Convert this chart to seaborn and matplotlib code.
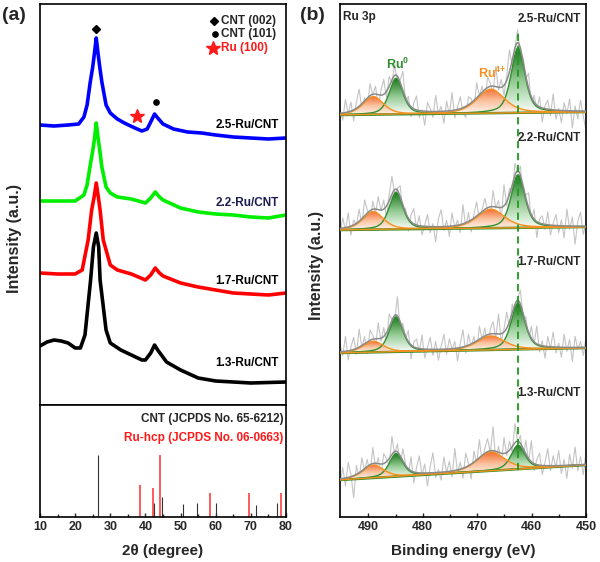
import numpy as np
import pandas as pd
import matplotlib
matplotlib.use("Agg")
import matplotlib.pyplot as plt
import seaborn as sns
from matplotlib.colors import LinearSegmentedColormap

sns.set_theme(style="white")
plt.rcParams['font.family'] = ['Liberation Sans', 'DejaVu Sans']
plt.rcParams['font.weight'] = 'bold'
plt.rcParams['mathtext.fontset'] = 'custom'
plt.rcParams['mathtext.rm'] = 'Liberation Sans:bold'
plt.rcParams['mathtext.bf'] = 'Liberation Sans:bold'
plt.rcParams['mathtext.it'] = 'Liberation Sans:bold'
plt.rcParams['axes.linewidth'] = 1.2

# ---------------- XRD data (2theta, intensity a.u.) ----------------
xrd_25_x = [10, 14, 18, 21, 22.5, 23.4, 24.3, 25.0, 25.5, 26.0, 26.5, 27.0, 27.6, 28.8, 30, 32, 34, 37, 39, 40.5, 41.5, 42.6, 43.5, 45, 48, 52, 56, 60, 65, 70, 75, 80]
xrd_25_y = [280, 279, 280, 281, 288, 300, 323, 338, 352, 367, 352, 338, 323, 300, 292, 286, 282, 277, 274, 276, 283, 291, 287, 281, 276, 273, 272, 270, 268, 267, 266, 267]
xrd_22_x = [10, 15, 20, 22.5, 23.4, 24.3, 25.0, 25.5, 26.0, 26.5, 27.0, 27.6, 28.8, 30, 32, 36, 40, 41.5, 42.8, 44, 45, 50, 55, 60, 65, 70, 75, 80]
xrd_22_y = [204, 204, 204, 210, 220, 240, 254, 266, 282, 268, 255, 238, 218, 212, 208, 206, 202, 207, 213, 208, 205, 197, 193, 191, 190, 188, 187, 190]
xrd_17_x = [10, 15, 20, 22, 23.7, 24.7, 25.4, 26.0, 26.6, 27.1, 28.0, 30, 32, 36, 40, 41.5, 42.8, 44, 45, 50, 55, 60, 65, 70, 75, 80]
xrd_17_y = [132, 131, 131, 135, 165, 195, 208, 222, 208, 195, 165, 140, 135, 131, 125, 130, 137, 132, 129, 122, 118, 115, 112, 111, 110, 112]
xrd_13_x = [10, 12, 14, 16, 18, 20, 21.5, 22.8, 24.4, 25.2, 26.0, 26.7, 27.1, 28.8, 30, 33, 36, 39, 40, 41.5, 42.6, 43.5, 46, 50, 55, 60, 70, 80]
xrd_13_y = [59, 63, 65, 64, 62, 57, 57, 70, 125, 158, 172, 158, 125, 75, 62, 55, 50, 45, 45, 52, 60, 55, 43, 35, 27, 24, 22, 23]

xrd_labels = ["2.5-Ru/CNT", "2.2-Ru/CNT", "1.7-Ru/CNT", "1.3-Ru/CNT"]
xrd_colors = ["#0000ff", "#00ee00", "#ff0000", "#000000"]

# reference patterns
cnt_pos = [26.6, 42.4, 44.6, 50.6, 54.8, 60.0, 71.5, 77.4]
cnt_int = [62, 14, 20, 13, 14, 14, 12, 14]
ru_pos = [38.5, 42.2, 44.1, 58.4, 69.5, 78.5]
ru_int = [32, 29, 62, 24, 24, 24]

# ---------------- XPS Ru 3p data ----------------
xps_labels = ["2.5-Ru/CNT", "2.2-Ru/CNT", "1.7-Ru/CNT", "1.3-Ru/CNT"]
peak_centers = [484.9, 462.5, 489.1, 467.5]       # Ru0 3p1/2, Ru0 3p3/2, Ru4+ 3p1/2, Ru4+ 3p3/2
peak_fwhm = [3.0, 3.0, 4.5, 6.0]
peak_kind = ["Ru0", "Ru0", "Ru4+", "Ru4+"]
heights_25 = [36, 65, 18, 24]
heights_22 = [37, 53, 18, 19]
heights_17 = [35, 46, 11, 14]
heights_13 = [23, 24, 13, 19]
baseline_25 = [402, 405]
baseline_22 = [287, 290]
baseline_17 = [164, 169]
baseline_13 = [37, 52]
resid_25 = [4, -7, 13, -2, 9, -11, 6, 17, -5, 3,
            -9, 12, -1, 8, -13, 5, 15, -6, 10, -3,
            11, -8, 2, 19, -4, 7, -10, 6, 14, -7,
            1, -14, 9, 3, -6, 16, -2, 5, -12, 10,
            -4, 18, -8, 2, 12, -5, -11, 8, 4, -9,
            15, -1, 6, -13, 11, 3, -7, 20, -3, 8,
            -10, 5, 22, -6, 1, 13, -8, 4, -2, 15,
            -11, 7, -4, 10, -14, 3, 9, -6, 16, -9,
            2, -12, 8, -3, 12, -17, 5, -8, 11, -5,
            -19]
resid_22 = [-6, 10, -3, 14, -9, 5, -2, 12, -7, 16,
            3, -11, 8, -4, 13, -1, 9, -12, 6, 18,
            -5, 2, 11, -8, 4, -13, 7, 15, -3, 10,
            -9, 1, 12, -6, 3, -15, 8, 17, -4, 6,
            -10, 13, -2, 5, -8, 19, -5, 9, -12, 4,
            14, -7, 2, 11, -3, -9, 16, -1, 7, -11,
            21, -4, 6, -8, 12, -2, 9, -13, 3, 15,
            -6, 10, -16, 4, 8, -5, 13, -10, 2, 11,
            -7, 6, -12, 17, -3, 9, -18, 5, 14, -8,
            3]
resid_17 = [8, -4, 15, -9, 3, 12, -6, 18, -2, 7,
            -12, 10, 4, -7, 16, -3, 9, -10, 13, 1,
            -5, 19, -8, 6, -2, 11, -14, 5, 9, -4,
            14, -9, 2, 12, -6, 8, -11, 3, 15, -5,
            10, -1, 7, -13, 4, 17, -7, 11, -3, 6,
            -10, 13, -2, 8, -15, 5, 12, -4, 20, -8,
            3, 16, -6, 9, -11, 2, 14, -5, 7, -9,
            12, -3, 18, -7, 5, -12, 10, -1, 15, -6,
            4, -10, 13, -4, 8, -14, 11, -2, 6, -8,
            9]
resid_13 = [-4, 11, -8, 15, 2, -22, 9, -5, 13, -2,
            7, -10, 16, -4, 6, -12, 10, 3, -7, 18,
            -3, 8, -9, 12, 1, -6, 14, -11, 5, 17,
            -2, 9, -13, 6, 20, -5, 3, -8, 15, -1,
            10, -6, 22, -3, 7, -10, 14, 2, -15, 11,
            -4, 18, -7, 5, 13, -2, 24, -9, 6, -12,
            16, -3, 9, -6, 19, -1, 8, -11, 14, -4,
            21, -7, 5, 12, -9, 3, 17, -5, 10, -2,
            15, -8, 6, -13, 11, -3, 18, -6, 8, -10,
            12]

# ---------------- figure layout ----------------
W, H = 600, 562
fig = plt.figure(figsize=(6.0, 5.62), dpi=100)
def rect(l, t, r, b):
    return [l / W, 1 - b / H, (r - l) / W, (b - t) / H]

ax_top = fig.add_axes(rect(40, 4, 286, 405))
ax_ref = fig.add_axes(rect(40, 405, 286, 517))
ax_xps = fig.add_axes(rect(340, 4, 586, 517))

for ax in (ax_top, ax_ref, ax_xps):
    ax.set_facecolor("white")
    for s in ax.spines.values():
        s.set_color("black")
        s.set_linewidth(1.2)

FS = 8.5

# ---------------- panel (a) upper ----------------
series = [(xrd_25_x, xrd_25_y), (xrd_22_x, xrd_22_y), (xrd_17_x, xrd_17_y), (xrd_13_x, xrd_13_y)]
for (xs, ys), lab, col in zip(series, xrd_labels, xrd_colors):
    df = pd.DataFrame({"x": xs, "y": ys})
    sns.lineplot(data=df, x="x", y="y", ax=ax_top, color=col, lw=2.6, legend=False)
label_y = [280, 202, 124, 42]
label_c = ["black", "#1c1c50", "black", "black"]
for lab, yy, c in zip(xrd_labels, label_y, label_c):
    ax_top.text(78.0, yy, lab, ha="right", va="center", fontsize=FS, fontweight="bold", color=c)

ax_top.plot([25.9], [376], marker="D", ms=4.2, color="black", ls="none")
ax_top.plot([43.0], [303], marker="o", ms=3.8, color="black", ls="none")
ax_top.plot([37.6], [289], marker="*", ms=10, color="#ff1a1a", ls="none")
ax_top.plot([59.5], [384], marker="D", ms=4.2, color="black", ls="none")
ax_top.plot([59.7], [371], marker="o", ms=3.8, color="black", ls="none")
ax_top.plot([59.3], [357], marker="*", ms=10, color="#ff1a1a", ls="none")
ax_top.text(61.4, 384, "CNT (002)", ha="left", va="center", fontsize=FS, fontweight="bold")
ax_top.text(61.4, 371, "CNT (101)", ha="left", va="center", fontsize=FS, fontweight="bold")
ax_top.text(61.4, 357, "Ru (100)", ha="left", va="center", fontsize=FS, fontweight="bold", color="#ff1a1a")
ax_top.set_xlim(10, 80)
ax_top.set_ylim(0, 401)
ax_top.set_xticks([])
ax_top.set_yticks([])
ax_top.set_xlabel("")
ax_top.set_ylabel("")

# ---------------- panel (a) lower ----------------
ax_ref.vlines(ru_pos, 0, ru_int, color="#ff5a5a", lw=1.4)
ax_ref.vlines(cnt_pos, 0, cnt_int, color="#333333", lw=0.8)
ax_ref.text(79.2, 98, "CNT (JCPDS No. 65-6212)", ha="right", va="center", fontsize=FS, fontweight="bold")
ax_ref.text(79.2, 79, "Ru-hcp (JCPDS No. 06-0663)", ha="right", va="center", fontsize=FS, fontweight="bold", color="#ff1a1a")
ax_ref.set_xlim(10, 80)
ax_ref.set_ylim(0, 112)
ax_ref.set_yticks([])
ax_ref.set_xticks(range(10, 81, 10))
ax_ref.set_xticks(range(15, 80, 10), minor=True)
ax_ref.tick_params(axis="x", which="major", direction="in", length=3, width=1, labelsize=9, pad=3, bottom=True)
ax_ref.tick_params(axis="x", which="minor", direction="in", length=2, width=1, bottom=True)
for t in ax_ref.get_xticklabels():
    t.set_fontweight("bold")

# ---------------- panel (b) ----------------
xs_fit = np.linspace(495.2, 450, 700)

def pv(x, c, h, w, eta=0.5):
    d = (x - c) / w
    return h * (eta / (1 + 4 * d * d) + (1 - eta) * np.exp(-4 * np.log(2) * d * d))

cm_orange = LinearSegmentedColormap.from_list("o", ["#fff6ee", "#fbc3a0", "#f36d32"])
cm_green = LinearSegmentedColormap.from_list("g", ["#ffffff", "#94cb94", "#1a751a"])

def grad_fill(ax, x, y0, y1, cmap):
    poly = ax.fill_between(x, y0, y1, color="none", lw=0)
    path = poly.get_paths()[0]
    grad = np.linspace(0, 1, 256).reshape(-1, 1)
    im = ax.imshow(grad, extent=[x.min(), x.max(), y0.min(), y1.max()], origin="lower",
                   aspect="auto", cmap=cmap, zorder=2, interpolation="bilinear")
    im.set_clip_path(path, transform=ax.transData)

spectra = [(heights_25, baseline_25, resid_25), (heights_22, baseline_22, resid_22),
           (heights_17, baseline_17, resid_17), (heights_13, baseline_13, resid_13)]
for heights, base, resid in spectra:
    base_fit = base[0] + (base[1] - base[0]) * (495.2 - xs_fit) / (495.2 - 450)
    comps = [pv(xs_fit, c, h, w) for c, h, w in zip(peak_centers, heights, peak_fwhm)]
    envelope = base_fit + np.sum(comps, axis=0)
    # raw data
    xr = np.linspace(495.2, 450, len(resid))
    raw = np.interp(xr[::-1], xs_fit[::-1], envelope[::-1])[::-1] + np.array(resid)
    sns.lineplot(x=xr, y=raw, ax=ax_xps, color="#c4c4c4", lw=0.8, zorder=1, legend=False)
    for comp, kind in zip(comps, peak_kind):
        mask = comp > 0.4
        cmap = cm_orange if kind == "Ru4+" else cm_green
        grad_fill(ax_xps, xs_fit[mask], base_fit[mask], base_fit[mask] + comp[mask], cmap)
    ax_xps.plot(xs_fit, base_fit, color="#2f8f2f", lw=1.8, zorder=3)
    for comp, kind in zip(comps, peak_kind):
        col = "#f7901e" if kind == "Ru4+" else "#2f8f2f"
        ax_xps.plot(xs_fit, base_fit + comp, color=col, lw=1.0, zorder=4)
    ax_xps.plot(xs_fit, envelope, color="#8a8a8a", lw=1.1, zorder=5)

ax_xps.plot([462.5, 462.5], [47, 485], color="#1e9a1e", lw=1.3, ls=(0, (4, 2.6)), zorder=6)

ax_xps.text(494.6, 500, "Ru 3p", ha="left", va="center", fontsize=FS, fontweight="bold")
xps_label_y = [498, 379, 255, 124]
for lab, yy in zip(xps_labels, xps_label_y):
    ax_xps.text(451.0, yy, lab, ha="right", va="center", fontsize=FS, fontweight="bold")
ax_xps.text(484.7, 453, r"Ru$^{0}$", ha="center", va="center", fontsize=9, fontweight="bold", color="#2f8f2f")
ax_xps.text(467.2, 444, r"Ru$^{4{+}}$", ha="center", va="center", fontsize=9, fontweight="bold", color="#f7901e")

ax_xps.set_xlim(495.2, 450)
ax_xps.set_ylim(0, 513)
ax_xps.set_yticks([])
ax_xps.set_xticks([490, 480, 470, 460, 450])
ax_xps.set_xticks([485, 475, 465, 455], minor=True)
ax_xps.tick_params(axis="x", which="major", direction="in", length=3, width=1, labelsize=9, pad=3, bottom=True)
ax_xps.tick_params(axis="x", which="minor", direction="in", length=2, width=1, bottom=True)
for t in ax_xps.get_xticklabels():
    t.set_fontweight("bold")
ax_xps.set_xlabel("")
ax_xps.set_ylabel("")

# ---------------- labels ----------------
def ftext(px, py, s, **kw):
    fig.text(px / W, 1 - py / H, s, **kw)

ftext(163, 551, "2θ (degree)", ha="center", va="center", fontsize=11, fontweight="bold")
ftext(463, 551, "Binding energy (eV)", ha="center", va="center", fontsize=11, fontweight="bold")
ftext(15, 238, "Intensity (a.u.)", ha="center", va="center", fontsize=11.5, fontweight="bold", rotation=90)
ftext(317, 266, "Intensity (a.u.)", ha="center", va="center", fontsize=11.5, fontweight="bold", rotation=90)
ftext(2, 15, "(a)", ha="left", va="center", fontsize=14, fontweight="bold")
ftext(300, 15, "(b)", ha="left", va="center", fontsize=14, fontweight="bold")

fig.savefig("out.png", dpi=100, facecolor="white")
